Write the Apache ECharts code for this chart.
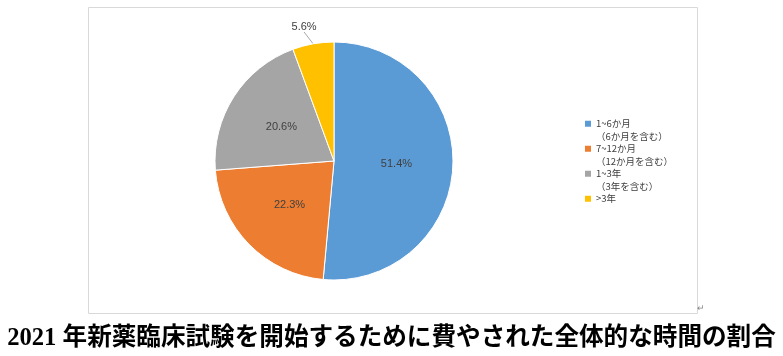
<!DOCTYPE html>
<html>
<head>
<meta charset="utf-8">
<script src="https://cdn.jsdelivr.net/npm/echarts@6/dist/echarts.min.js"></script>
<style>html,body{margin:0;padding:0;background:#fff;}#c{width:783px;height:356px;}</style>
</head>
<body>
<div id="c"></div>
<script>
var categories = ['1~6か月\n（6か月を含む）', '7~12か月\n（12か月を含む）', '1~3年\n（3年を含む）', '>3年'];
var values = [51.4, 22.3, 20.6, 5.6];
var colors = ['#5B9BD5', '#ED7D31', '#A5A5A5', '#FFC000'];
var titleText = '2021 年新薬臨床試験を開始するために費やされた全体的な時間の割合';

var chart = echarts.init(document.getElementById('c'), null, {renderer: 'canvas'});
var data = categories.map(function (c, i) {
  var d = {name: c, value: values[i], itemStyle: {color: colors[i]}};
  if (i === 3) {
    d.label = {position: 'outside'};
    d.labelLine = {show: true, length: 12, length2: 0, lineStyle: {color: '#a6a6a6', width: 1}};
  }
  return d;
});
chart.setOption({
  animation: false,
  title: {
    text: titleText,
    left: 'center',
    top: 321,
    textStyle: {fontFamily: "'Liberation Serif', 'Noto Sans CJK JP'", fontWeight: 'bold', fontSize: 24.6, color: '#000'}
  },
  legend: {
    orient: 'vertical',
    left: 585,
    top: 105,
    padding: 0,
    itemWidth: 6,
    itemHeight: 6,
    itemGap: -12.5,
    itemStyle: {borderWidth: 0},
    icon: 'rect',
    data: categories,
    formatter: function (name) {
      return '\n' + name + (name.indexOf('\n') >= 0 ? '' : '\n ');
    },
    textStyle: {fontSize: 9.5, lineHeight: 12.5, color: '#404040', fontFamily: "'Noto Sans CJK JP'"}
  },
  graphic: [
    {type: 'rect', shape: {x: 88.5, y: 7.5, width: 609, height: 306}, style: {fill: 'none', stroke: '#d9d9d9', lineWidth: 1}, silent: true, z: -1},
    {type: 'text', left: 697, top: 304, style: {text: '↵', fontSize: 9, fill: '#888'}}
  ],
  series: [{
    type: 'pie',
    center: [334, 161],
    radius: [0, 119],
    startAngle: 90,
    clockwise: true,
    itemStyle: {borderColor: '#fff', borderWidth: 1},
    label: {
      show: true,
      position: 'inside',
      formatter: function (p) { return p.value.toFixed(1) + '%'; },
      color: '#404040',
      fontSize: 11,
      fontFamily: "'Liberation Sans'"
    },
    labelLine: {show: false},
    labelLayout: function (p) {
      if (p.dataIndex === 3 && p.labelLinePoints) {
        var pt = p.labelLinePoints[p.labelLinePoints.length - 1];
        return {x: pt[0] - 7, y: pt[1], align: 'center', verticalAlign: 'bottom'};
      }
    },
    data: data
  }]
});
</script>
</body>
</html>
